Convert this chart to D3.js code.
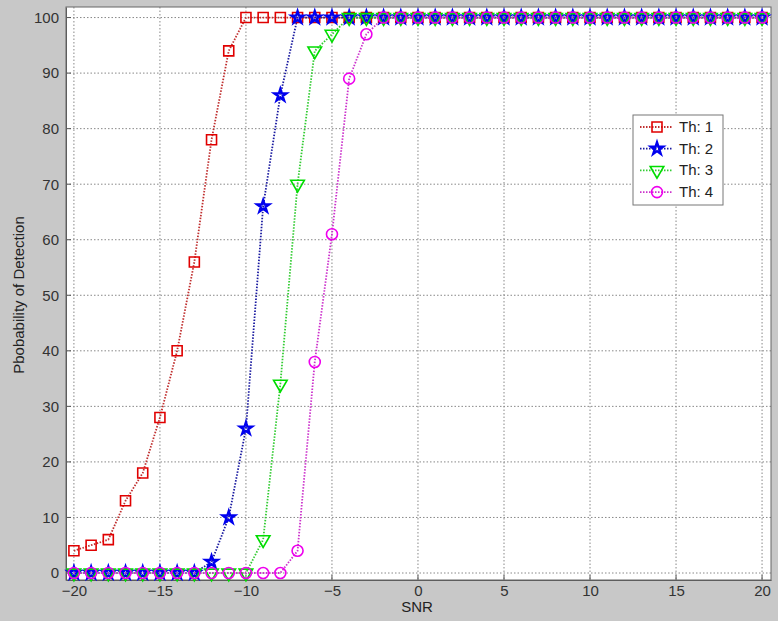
<!DOCTYPE html>
<html><head><meta charset="utf-8">
<script src="https://cdn.jsdelivr.net/npm/d3@7"></script>
<style>body{margin:0;background:#c8c8c8;} svg{display:block;font-family:Arial,"Liberation Sans",sans-serif;}</style>
</head><body><svg id="c" width="778" height="621"></svg>
<script>
const snr = d3.range(-20, 21, 1);
const th1 = [4,5,6,13,18,28,40,56,78,94,100,100,100,100,100,100,100,100,100,100,100,100,100,100,100,100,100,100,100,100,100,100,100,100,100,100,100,100,100,100,100];
const th2 = [0,0,0,0,0,0,0,0,2,10,26,66,86,100,100,100,100,100,100,100,100,100,100,100,100,100,100,100,100,100,100,100,100,100,100,100,100,100,100,100,100];
const th3 = [0,0,0,0,0,0,0,0,0,0,0,6,34,70,94,97,100,100,100,100,100,100,100,100,100,100,100,100,100,100,100,100,100,100,100,100,100,100,100,100,100];
const th4 = [0,0,0,0,0,0,0,0,0,0,0,0,0,4,38,61,89,97,100,100,100,100,100,100,100,100,100,100,100,100,100,100,100,100,100,100,100,100,100,100,100];
const seriesNames = ["Th: 1","Th: 2","Th: 3","Th: 4"];
const xTicks = [-20,-15,-10,-5,0,5,10,15,20];
const yTicks = [0,10,20,30,40,50,60,70,80,90,100];

const svg = d3.select("#c");
const L=66,R=771,T=7,B=580;
const x = d3.scaleLinear().domain([-20.46,20.52]).range([L,R]);
const y = d3.scaleLinear().domain([-1.26,101.9]).range([B,T]);

svg.append("rect").attr("x",L).attr("y",T).attr("width",R-L).attr("height",B-T).attr("fill","#fff");

// grid
svg.append("g").selectAll("line").data(xTicks).join("line")
  .attr("x1",d=>x(d)).attr("x2",d=>x(d)).attr("y1",T).attr("y2",B)
  .attr("stroke","#888").attr("stroke-width",1).attr("stroke-dasharray","1.5,2");
svg.append("g").selectAll("line").data(yTicks).join("line")
  .attr("y1",d=>y(d)).attr("y2",d=>y(d)).attr("x1",L).attr("x2",R)
  .attr("stroke","#888").attr("stroke-width",1).attr("stroke-dasharray","1.5,2");

// axes
const xAxis = d3.axisBottom(x).tickValues(xTicks).tickSize(0).tickPadding(5);
const gx = svg.append("g").attr("transform",`translate(0,${B})`).call(xAxis);
gx.select(".domain").attr("stroke","#555");
gx.selectAll("text").attr("font-size",15).attr("fill","#333");
const yAxis = d3.axisLeft(y).tickValues(yTicks).tickSize(0).tickPadding(7);
const gy = svg.append("g").attr("transform",`translate(${L},0)`).call(yAxis);
gy.select(".domain").attr("stroke","#555");
gy.selectAll("text").attr("font-size",15).attr("fill","#333");
// inner ticks
svg.append("g").selectAll("line").data(xTicks).join("line")
  .attr("x1",d=>x(d)).attr("x2",d=>x(d)).attr("y1",B).attr("y2",B-5).attr("stroke","#555");
svg.append("g").selectAll("line").data(yTicks).join("line")
  .attr("y1",d=>y(d)).attr("y2",d=>y(d)).attr("x1",L).attr("x2",L+5).attr("stroke","#555");
svg.append("rect").attr("x",L).attr("y",T).attr("width",R-L).attr("height",B-T).attr("fill","none").attr("stroke","#666");

svg.append("text").attr("x",417).attr("y",612).attr("text-anchor","middle").attr("font-size",15).attr("fill","#222").text("SNR");
svg.append("text").attr("transform","translate(24,295) rotate(-90)").attr("text-anchor","middle").attr("font-size",15).attr("fill","#222").text("Pbobability of Detection");

const lineColors = ["#c03030","#1a1aa0","#33cc33","#cc33cc"];
const markColors = ["#e00000","#0000ee","#00dd00","#ee00ee"];
const datas=[th1,th2,th3,th4];
const symbols=[d3.symbolSquare,d3.symbolStar,d3.symbolTriangle,d3.symbolCircle];
const sizes=[100,45,80,95];
const rot=[0,0,180,0];
const line = d3.line().x((d,i)=>x(snr[i])).y(d=>y(d));

datas.forEach((ds,k)=>{
  svg.append("path").attr("d",line(ds)).attr("fill","none").attr("stroke",lineColors[k])
    .attr("stroke-width",1.8).attr("stroke-dasharray","1.5,1.5");
});
datas.forEach((ds,k)=>{
  const sym=d3.symbol().type(symbols[k]).size(sizes[k]);
  svg.append("g").selectAll("path").data(ds).join("path")
    .attr("d",sym).attr("transform",(d,i)=>`translate(${x(snr[i])},${y(d)}) rotate(${rot[k]})`)
    .attr("fill","none").attr("stroke",markColors[k]).attr("stroke-width",k===1?2.4:1.6);
});

// legend
const lg = svg.append("g");
lg.append("rect").attr("x",633).attr("y",115).attr("width",90).attr("height",90).attr("fill","#fff").attr("stroke","#777");
seriesNames.forEach((n,k)=>{
  const yy = 127+k*21.7;
  lg.append("line").attr("x1",640).attr("x2",672).attr("y1",yy).attr("y2",yy).attr("stroke",lineColors[k]).attr("stroke-width",1.8).attr("stroke-dasharray","1.5,1.5");
  lg.append("path").attr("d",d3.symbol().type(symbols[k]).size(sizes[k])()).attr("transform",`translate(657,${yy}) rotate(${rot[k]})`).attr("fill","none").attr("stroke",markColors[k]).attr("stroke-width",k===1?2.4:1.6);
  lg.append("text").attr("x",679).attr("y",yy+5).attr("font-size",15).attr("fill","#222").text(n);
});
</script></body></html>
